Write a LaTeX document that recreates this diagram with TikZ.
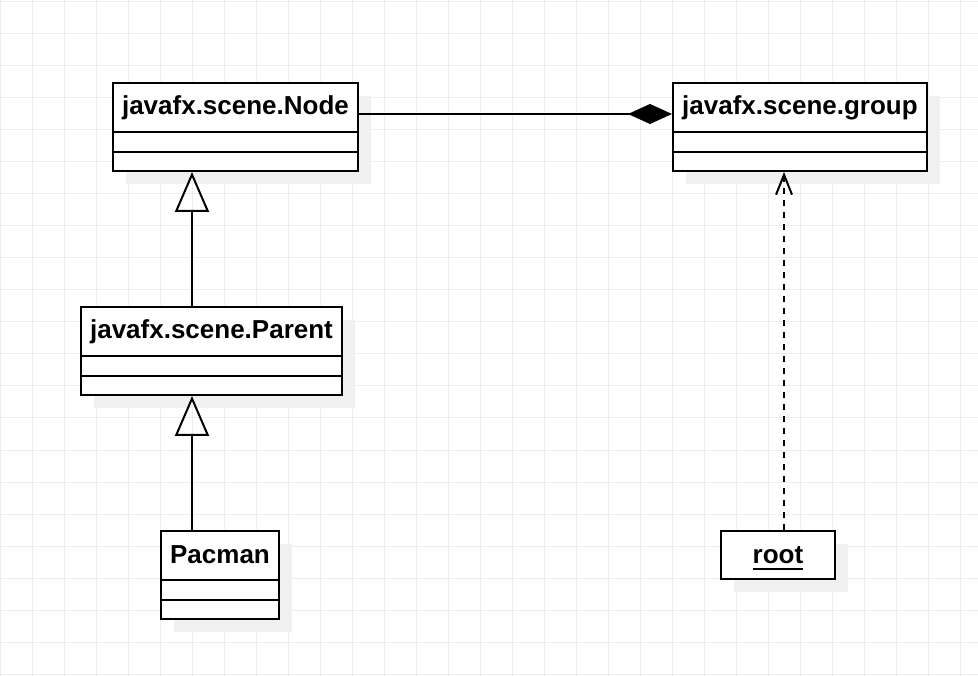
\documentclass[tikz,border=0pt]{standalone}
\usepackage{fontspec}
\setmainfont{Liberation Sans}
\usetikzlibrary{arrows.meta,calc}

\tikzset{
  umlbox/.style={draw, line width=2pt, fill=white, anchor=north west, inner sep=0pt},
  umlshadow/.style={fill=black!6},
  umltitle/.style={font=\fontsize{26}{30}\selectfont\bfseries, inner sep=0pt, anchor=base},
  gridline/.style={draw=black!7, line width=1pt},
  inherit/.style={line width=2pt, -{Triangle[open, length=40pt, width=34pt]}},
  compose/.style={line width=2pt, -{Diamond[length=44pt, width=20pt]}},
  depends/.style={line width=2pt, dash pattern=on 6pt off 6pt, -{Straight Barb[length=20pt, width=16pt]}},
}

% thick underline for object names
\newcommand{\objname}[1]{\setbox0\hbox{#1}\rlap{\rule[-7pt]{\wd0}{2pt}}\box0}

% class box: name, x, y, width, height, title
\newcommand{\umlclass}[6]{%
  \fill[umlshadow] (#2+14,#3+14) rectangle ++(#4,#5);
  \node[umlbox, minimum width=#4pt, minimum height=#5pt] (#1) at (#2,#3) {};
  \node[umltitle] (#1-title) at ($(#1.north)+(0,33)$) {#6};
  \draw[line width=2pt] ($(#1.north west)+(0,50)$) -- ($(#1.north east)+(0,50)$);
  \draw[line width=2pt] ($(#1.north west)+(0,70)$) -- ($(#1.north east)+(0,70)$);
}

\begin{document}
\begin{tikzpicture}[x=1pt, y=-1pt]
\useasboundingbox (0,0) rectangle (978,676);
\fill[white] (0,0) rectangle (978,676);
\foreach \gx in {0,32,...,960}
    \draw[gridline] (\gx,0) -- (\gx,676);
\foreach \gy in {2,34,...,674}
    \draw[gridline] (0,\gy) -- (978,\gy);

\umlclass{scenenode}{112}{82}{245}{88}{javafx.scene.Node}
\umlclass{group}{672}{82}{254}{88}{javafx.scene.group}
\umlclass{parent}{80}{306}{261}{88}{javafx.scene.Parent}
\umlclass{pacman}{160}{530}{118}{88}{Pacman}

\fill[umlshadow] (734,544) rectangle ++(114,48);
\node[umlbox, minimum width=114pt, minimum height=48pt] (root) at (720,530) {};
\node[umltitle] (root-title) at ($(root.north)+(0,33)$) {\objname{root}};

\coordinate (nodeRight) at ($(scenenode.north east)+(0,32)$);
\coordinate (parentTop) at ($(parent.north west)+(112,0)$);
\coordinate (pacmanTop) at ($(pacman.north west)+(32,0)$);
\coordinate (rootTop) at ($(root.north west)+(64,0)$);

\draw[compose] (nodeRight) -- (nodeRight -| group.west);
\draw[inherit] (parentTop) -- (parentTop |- scenenode.south);
\draw[inherit] (pacmanTop) -- (pacmanTop |- parent.south);
\draw[depends] (rootTop) -- (rootTop |- group.south);
\end{tikzpicture}
\end{document}
